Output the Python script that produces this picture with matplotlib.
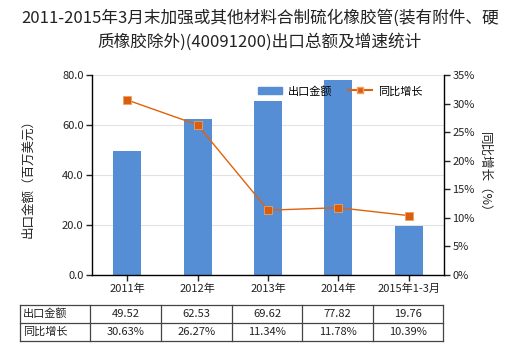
import matplotlib
matplotlib.use("Agg")
import matplotlib.pyplot as plt
from matplotlib.lines import Line2D
from matplotlib.patches import Patch

plt.rcParams['font.family'] = ['Noto Sans CJK SC', 'DejaVu Sans']

categories = ["2011年", "2012年", "2013年", "2014年", "2015年1-3月"]
export_values = [49.52, 62.53, 69.62, 77.82, 19.76]
growth_rates = [30.63, 26.27, 11.34, 11.78, 10.39]
row_labels = ["出口金额", "同比增长"]
left_ticks = [0, 20, 40, 60, 80]
right_ticks = [0, 5, 10, 15, 20, 25, 30, 35]

bar_color = "#558ED5"
line_color = "#E0620C"
text_color = "#222222"

fig = plt.figure(figsize=(5.2, 3.5), dpi=100)
W, H = 520, 350
ax = fig.add_axes([92 / W, 1 - 275 / H, (444 - 92) / W, 200 / H])
ax2 = ax.twinx()

x = list(range(len(categories)))
ax.bar(x, export_values, width=0.4, color=bar_color, zorder=2)
ax.set_xlim(-0.5, len(categories) - 0.5)
ax.set_ylim(0, 80)
ax.set_yticks(left_ticks)
ax.set_yticklabels([f"{v:.1f}" for v in left_ticks])
ax.yaxis.grid(True, color="#E2E2E2", linewidth=0.8, zorder=0)
ax.set_axisbelow(True)
ax.set_xticks(x)
ax.set_xticklabels(categories)

ax2.plot(x, growth_rates, color=line_color, linewidth=1.0, marker="s",
         markersize=5.5, markerfacecolor="#D95F0E", markeredgecolor="#F0A060",
         markeredgewidth=0.6, zorder=3)
ax2.set_ylim(0, 35)
ax2.set_yticks(right_ticks)
ax2.set_yticklabels([f"{v}%" for v in right_ticks])

for a in (ax, ax2):
    for s in a.spines.values():
        s.set_visible(False)
    a.tick_params(labelsize=8, colors=text_color, length=4, width=1, pad=2)
ax.spines["left"].set_visible(True)
ax.spines["bottom"].set_visible(True)
ax2.spines["right"].set_visible(True)
for s in (ax.spines["left"], ax.spines["bottom"], ax2.spines["right"]):
    s.set_color("black")
    s.set_linewidth(1)

ax.set_ylabel("出口金额（百万美元）", fontsize=9, color=text_color, labelpad=20)
ax2.set_ylabel("同比增长（%）", fontsize=9, color=text_color, rotation=270, labelpad=12)

fig.text(0.5, 1 - 18 / H, "2011-2015年3月末加强或其他材料合制硫化橡胶管(装有附件、硬",
         ha="center", va="center", fontsize=12, color=text_color)
fig.text(0.5, 1 - 42 / H, "质橡胶除外)(40091200)出口总额及增速统计",
         ha="center", va="center", fontsize=12, color=text_color)

handles = [Patch(color=bar_color, label="出口金额"),
           Line2D([], [], color=line_color, marker="s", markersize=4,
                  markerfacecolor="#D95F0E", markeredgecolor="#F0A060", label="同比增长")]
fig.legend(handles=handles, loc="center", bbox_to_anchor=(340 / W, 1 - 91 / H),
           ncol=2, frameon=False, fontsize=8, handlelength=2.2, columnspacing=1.4,
           handletextpad=0.5)

# data table under the axis
col_edges = [20, 90, 161, 232, 302, 373, 443]
row_edges = [305, 323, 341]
for ye in row_edges:
    fig.add_artist(Line2D([col_edges[0] / W, col_edges[-1] / W], [1 - ye / H, 1 - ye / H],
                          color="#444444", linewidth=0.9))
for xe in col_edges:
    fig.add_artist(Line2D([xe / W, xe / W], [1 - row_edges[0] / H, 1 - row_edges[-1] / H],
                          color="#444444", linewidth=0.9))
rows = [[f"{v:.2f}" for v in export_values], [f"{v:.2f}%" for v in growth_rates]]
for r, (label, vals) in enumerate(zip(row_labels, rows)):
    yc = 1 - (row_edges[r] + row_edges[r + 1]) / 2 / H
    fig.text((col_edges[0] + 3) / W, yc, label, ha="left", va="center", fontsize=8, color=text_color)
    for c, v in enumerate(vals):
        xc = (col_edges[c + 1] + col_edges[c + 2]) / 2 / W
        fig.text(xc, yc, v, ha="center", va="center", fontsize=8, color=text_color)

fig.savefig("out.png", dpi=100)
